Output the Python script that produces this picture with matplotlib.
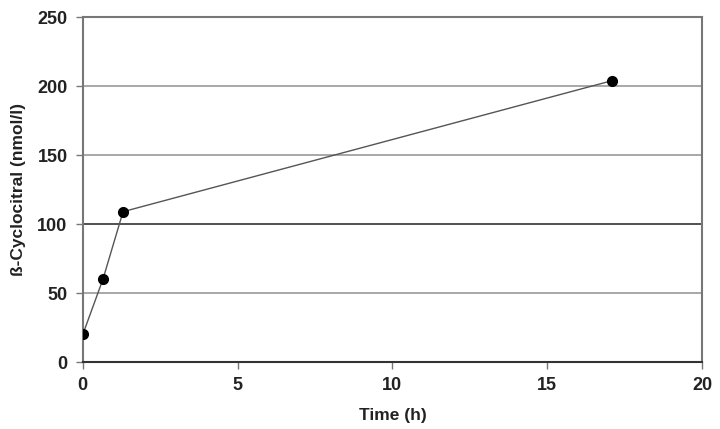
import matplotlib
matplotlib.use("Agg")
import matplotlib.pyplot as plt

time_h = [0, 0.65, 1.3, 17.1]
cyclocitral = [20, 60, 109, 204]
x_ticks = [0, 5, 10, 15, 20]
y_ticks = [0, 50, 100, 150, 200, 250]

plt.rcParams['font.family'] = ['Liberation Sans', 'DejaVu Sans']

fig = plt.figure(figsize=(7.2, 4.29), dpi=100)
ax = fig.add_axes([0.115, 0.156, 0.86, 0.804])

ax.plot(time_h, cyclocitral, color='#555555', lw=1.0, marker='o',
        markersize=7, markerfacecolor='black', markeredgecolor='black',
        zorder=3)

ax.set_xlim(0, 20)
ax.set_ylim(0, 250)
ax.set_xticks(x_ticks)
ax.set_yticks(y_ticks)
ax.yaxis.grid(True, color='#999999', lw=1.2)
ax.set_axisbelow(True)
# the 100 line looks darker in the original
ax.axhline(100, color='#444444', lw=1.2, zorder=1)

for s in ax.spines.values():
    s.set_color('#777777')
    s.set_linewidth(1.5)
ax.spines['bottom'].set_color('#333333')

ax.tick_params(axis='both', colors='#777777', length=5, width=1,
               labelcolor='#222222', labelsize=13, pad=6)
for lab in ax.get_xticklabels() + ax.get_yticklabels():
    lab.set_fontweight('bold')

ax.set_xlabel('Time (h)', fontsize=12.5, fontweight='bold', color='#222222',
              labelpad=10)
ax.set_ylabel('ß-Cyclocitral (nmol/l)', fontsize=12.5, fontweight='bold',
              color='#222222', labelpad=8)

fig.savefig('out.png', dpi=100)
